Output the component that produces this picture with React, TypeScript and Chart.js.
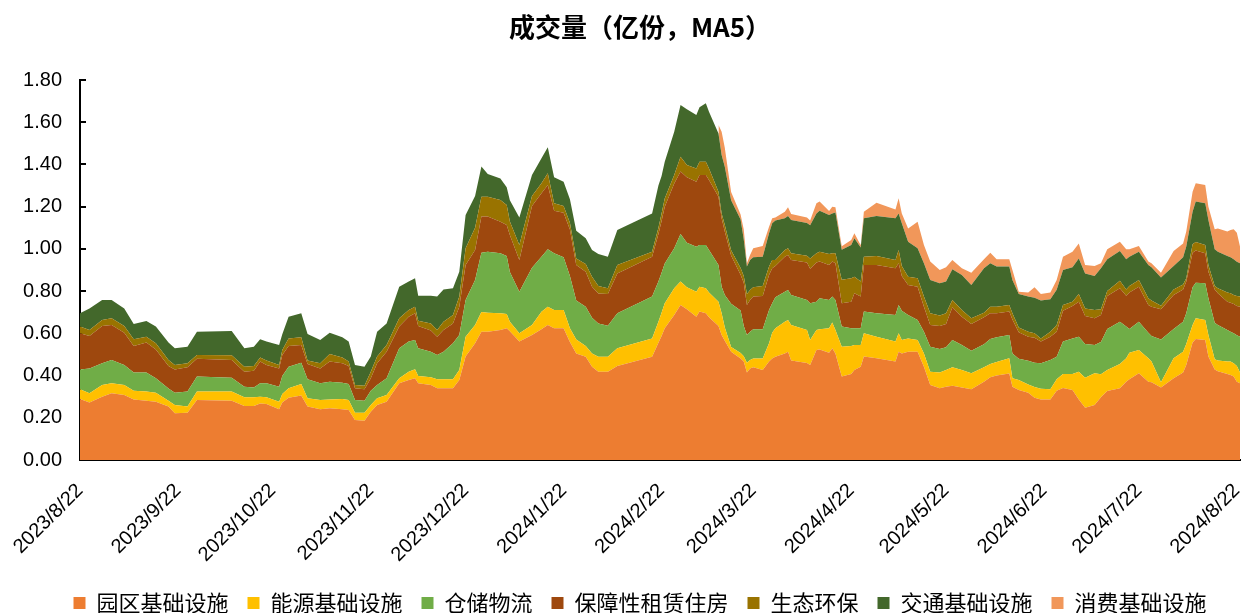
import React, { useEffect, useRef } from 'react';
import { Chart, registerables } from 'chart.js';

Chart.register(...registerables);

const dates: string[] = [
  '2023-08-22', '2023-08-25', '2023-08-29', '2023-09-01', '2023-09-05', '2023-09-08', '2023-09-12', '2023-09-15', '2023-09-19', '2023-09-21',
  '2023-09-25', '2023-09-28', '2023-10-09', '2023-10-13', '2023-10-16', '2023-10-18', '2023-10-20', '2023-10-24', '2023-10-25', '2023-10-27',
  '2023-10-31', '2023-11-02', '2023-11-06', '2023-11-09', '2023-11-13', '2023-11-15', '2023-11-17', '2023-11-20', '2023-11-22', '2023-11-24',
  '2023-11-27', '2023-12-01', '2023-12-04', '2023-12-06', '2023-12-07', '2023-12-11', '2023-12-13', '2023-12-15', '2023-12-18', '2023-12-20',
  '2023-12-22', '2023-12-25', '2023-12-27', '2023-12-29', '2024-01-02', '2024-01-04', '2024-01-05', '2024-01-08', '2024-01-12', '2024-01-15',
  '2024-01-17', '2024-01-19', '2024-01-22', '2024-01-24', '2024-01-26', '2024-01-29', '2024-01-31', '2024-02-02', '2024-02-05', '2024-02-08',
  '2024-02-19', '2024-02-21', '2024-02-22', '2024-02-23', '2024-02-26', '2024-02-28', '2024-03-01', '2024-03-04', '2024-03-05', '2024-03-07',
  '2024-03-08', '2024-03-11', '2024-03-12', '2024-03-13', '2024-03-15', '2024-03-18', '2024-03-19', '2024-03-20', '2024-03-21', '2024-03-22',
  '2024-03-25', '2024-03-27', '2024-03-28', '2024-03-29', '2024-04-01', '2024-04-02', '2024-04-03', '2024-04-08', '2024-04-09', '2024-04-11',
  '2024-04-12', '2024-04-15', '2024-04-16', '2024-04-17', '2024-04-19', '2024-04-22', '2024-04-23', '2024-04-25', '2024-04-26', '2024-04-30',
  '2024-05-06', '2024-05-07', '2024-05-08', '2024-05-10', '2024-05-13', '2024-05-15', '2024-05-17', '2024-05-20', '2024-05-22', '2024-05-24',
  '2024-05-27', '2024-05-30', '2024-06-03', '2024-06-05', '2024-06-07', '2024-06-11', '2024-06-12', '2024-06-14', '2024-06-17', '2024-06-19',
  '2024-06-21', '2024-06-24', '2024-06-26', '2024-06-28', '2024-07-01', '2024-07-03', '2024-07-05', '2024-07-08', '2024-07-10', '2024-07-12',
  '2024-07-16', '2024-07-18', '2024-07-19', '2024-07-22', '2024-07-25', '2024-07-26', '2024-07-29', '2024-08-02', '2024-08-05', '2024-08-06',
  '2024-08-08', '2024-08-09', '2024-08-12', '2024-08-13', '2024-08-15', '2024-08-16', '2024-08-19', '2024-08-20', '2024-08-21', '2024-08-22',
  '2024-08-23',
];

// 园区基础设施
const park: number[] = [
  0.289, 0.272, 0.300, 0.316, 0.308, 0.287, 0.281, 0.276, 0.253, 0.221,
  0.224, 0.284, 0.281, 0.256, 0.256, 0.268, 0.265, 0.240, 0.272, 0.295,
  0.305, 0.253, 0.240, 0.245, 0.240, 0.237, 0.190, 0.186, 0.229, 0.261,
  0.276, 0.363, 0.379, 0.387, 0.363, 0.355, 0.340, 0.340, 0.340, 0.379,
  0.490, 0.553, 0.608, 0.608, 0.616, 0.624, 0.610, 0.561, 0.592, 0.619,
  0.640, 0.624, 0.624, 0.559, 0.505, 0.489, 0.442, 0.418, 0.418, 0.445,
  0.489, 0.555, 0.587, 0.624, 0.687, 0.734, 0.714, 0.679, 0.703, 0.695,
  0.676, 0.635, 0.592, 0.565, 0.513, 0.481, 0.466, 0.414, 0.434, 0.439,
  0.426, 0.466, 0.481, 0.489, 0.505, 0.513, 0.471, 0.460, 0.450, 0.521,
  0.524, 0.508, 0.529, 0.505, 0.395, 0.407, 0.426, 0.442, 0.490, 0.482,
  0.466, 0.513, 0.505, 0.513, 0.513, 0.442, 0.355, 0.340, 0.347, 0.352,
  0.344, 0.335, 0.371, 0.392, 0.400, 0.410, 0.347, 0.332, 0.319, 0.295,
  0.287, 0.287, 0.328, 0.341, 0.332, 0.287, 0.248, 0.261, 0.297, 0.327,
  0.340, 0.371, 0.382, 0.411, 0.371, 0.368, 0.344, 0.387, 0.414, 0.450,
  0.556, 0.573, 0.568, 0.490, 0.429, 0.420, 0.407, 0.403, 0.395, 0.371,
  0.363,
];

// 能源基础设施
const energy: number[] = [
  0.046, 0.044, 0.055, 0.047, 0.047, 0.041, 0.043, 0.043, 0.028, 0.040,
  0.029, 0.040, 0.043, 0.041, 0.041, 0.032, 0.032, 0.036, 0.041, 0.045,
  0.055, 0.039, 0.044, 0.042, 0.049, 0.047, 0.034, 0.038, 0.032, 0.031,
  0.032, 0.024, 0.039, 0.043, 0.035, 0.037, 0.042, 0.042, 0.042, 0.047,
  0.094, 0.087, 0.093, 0.090, 0.079, 0.068, 0.045, 0.039, 0.047, 0.083,
  0.086, 0.086, 0.086, 0.065, 0.066, 0.051, 0.063, 0.071, 0.071, 0.084,
  0.087, 0.100, 0.111, 0.118, 0.126, 0.111, 0.104, 0.118, 0.118, 0.118,
  0.117, 0.115, 0.103, 0.063, 0.022, 0.026, 0.026, 0.047, 0.040, 0.042,
  0.055, 0.087, 0.122, 0.135, 0.150, 0.150, 0.168, 0.156, 0.118, 0.095,
  0.095, 0.116, 0.122, 0.111, 0.142, 0.133, 0.119, 0.103, 0.110, 0.102,
  0.095, 0.087, 0.063, 0.063, 0.055, 0.063, 0.063, 0.074, 0.079, 0.087,
  0.082, 0.076, 0.068, 0.063, 0.064, 0.072, 0.040, 0.047, 0.039, 0.051,
  0.051, 0.048, 0.054, 0.066, 0.075, 0.131, 0.142, 0.150, 0.109, 0.099,
  0.115, 0.111, 0.126, 0.110, 0.111, 0.098, 0.024, 0.095, 0.099, 0.100,
  0.083, 0.098, 0.095, 0.102, 0.048, 0.051, 0.059, 0.063, 0.063, 0.074,
  0.051,
];

// 仓储物流
const storage: number[] = [
  0.094, 0.118, 0.103, 0.111, 0.095, 0.086, 0.090, 0.068, 0.058, 0.058,
  0.071, 0.071, 0.066, 0.050, 0.047, 0.063, 0.066, 0.071, 0.085, 0.102,
  0.101, 0.090, 0.079, 0.084, 0.077, 0.076, 0.060, 0.057, 0.067, 0.063,
  0.079, 0.142, 0.143, 0.138, 0.131, 0.121, 0.115, 0.131, 0.171, 0.166,
  0.174, 0.213, 0.281, 0.289, 0.284, 0.274, 0.235, 0.197, 0.272, 0.261,
  0.272, 0.269, 0.250, 0.247, 0.184, 0.186, 0.169, 0.158, 0.147, 0.166,
  0.198, 0.190, 0.189, 0.189, 0.190, 0.225, 0.211, 0.213, 0.197, 0.205,
  0.202, 0.174, 0.126, 0.153, 0.205, 0.201, 0.143, 0.131, 0.134, 0.138,
  0.138, 0.157, 0.139, 0.147, 0.142, 0.142, 0.142, 0.142, 0.174, 0.134,
  0.147, 0.134, 0.123, 0.142, 0.095, 0.084, 0.079, 0.079, 0.103, 0.111,
  0.126, 0.134, 0.139, 0.111, 0.095, 0.103, 0.119, 0.112, 0.108, 0.129,
  0.119, 0.107, 0.109, 0.118, 0.117, 0.110, 0.118, 0.101, 0.112, 0.115,
  0.120, 0.139, 0.107, 0.154, 0.169, 0.166, 0.159, 0.134, 0.153, 0.195,
  0.200, 0.150, 0.113, 0.134, 0.121, 0.121, 0.203, 0.139, 0.142, 0.145,
  0.179, 0.169, 0.174, 0.174, 0.173, 0.169, 0.150, 0.142, 0.142, 0.146,
  0.170,
];

// 保障性租赁住房
const housing: number[] = [
  0.171, 0.153, 0.177, 0.166, 0.153, 0.126, 0.142, 0.137, 0.106, 0.110,
  0.115, 0.085, 0.084, 0.071, 0.079, 0.103, 0.087, 0.087, 0.099, 0.098,
  0.084, 0.073, 0.071, 0.095, 0.092, 0.085, 0.056, 0.054, 0.059, 0.103,
  0.126, 0.103, 0.118, 0.127, 0.106, 0.100, 0.087, 0.103, 0.094, 0.134,
  0.166, 0.142, 0.171, 0.166, 0.150, 0.147, 0.176, 0.150, 0.292, 0.300,
  0.305, 0.202, 0.211, 0.221, 0.169, 0.166, 0.147, 0.142, 0.150, 0.189,
  0.189, 0.225, 0.245, 0.269, 0.307, 0.296, 0.310, 0.308, 0.332, 0.332,
  0.331, 0.323, 0.324, 0.301, 0.229, 0.170, 0.205, 0.142, 0.150, 0.155,
  0.158, 0.166, 0.166, 0.148, 0.166, 0.166, 0.166, 0.177, 0.164, 0.185,
  0.174, 0.166, 0.166, 0.174, 0.111, 0.126, 0.166, 0.150, 0.221, 0.229,
  0.221, 0.198, 0.165, 0.142, 0.158, 0.118, 0.102, 0.109, 0.110, 0.155,
  0.134, 0.126, 0.128, 0.122, 0.114, 0.111, 0.161, 0.125, 0.114, 0.118,
  0.103, 0.110, 0.119, 0.146, 0.153, 0.166, 0.133, 0.126, 0.128, 0.156,
  0.158, 0.146, 0.172, 0.166, 0.131, 0.139, 0.143, 0.161, 0.153, 0.150,
  0.164, 0.152, 0.142, 0.126, 0.158, 0.150, 0.134, 0.137, 0.139, 0.138,
  0.142,
];

// 生态环保
const eco: number[] = [
  0.032, 0.029, 0.028, 0.031, 0.032, 0.032, 0.028, 0.029, 0.029, 0.021,
  0.019, 0.017, 0.022, 0.024, 0.022, 0.020, 0.021, 0.016, 0.024, 0.036,
  0.036, 0.016, 0.024, 0.036, 0.028, 0.021, 0.015, 0.017, 0.031, 0.032,
  0.032, 0.039, 0.032, 0.031, 0.025, 0.034, 0.032, 0.039, 0.040, 0.048,
  0.079, 0.105, 0.094, 0.094, 0.103, 0.095, 0.064, 0.071, 0.048, 0.048,
  0.055, 0.035, 0.032, 0.032, 0.031, 0.036, 0.047, 0.035, 0.027, 0.040,
  0.024, 0.030, 0.036, 0.039, 0.040, 0.071, 0.058, 0.063, 0.063, 0.063,
  0.055, 0.024, 0.023, 0.031, 0.024, 0.032, 0.031, 0.052, 0.047, 0.044,
  0.047, 0.040, 0.039, 0.028, 0.032, 0.032, 0.032, 0.032, 0.048, 0.044,
  0.047, 0.052, 0.039, 0.047, 0.111, 0.111, 0.078, 0.071, 0.039, 0.042,
  0.039, 0.063, 0.047, 0.039, 0.040, 0.048, 0.056, 0.049, 0.051, 0.035,
  0.032, 0.027, 0.022, 0.031, 0.031, 0.031, 0.029, 0.023, 0.024, 0.021,
  0.015, 0.024, 0.032, 0.027, 0.021, 0.036, 0.036, 0.040, 0.027, 0.023,
  0.036, 0.030, 0.031, 0.032, 0.032, 0.029, 0.017, 0.026, 0.023, 0.016,
  0.040, 0.041, 0.039, 0.032, 0.016, 0.023, 0.043, 0.045, 0.043, 0.048,
  0.048,
];

// 交通基础设施
const transport: number[] = [
  0.063, 0.102, 0.095, 0.087, 0.083, 0.072, 0.074, 0.079, 0.082, 0.079,
  0.079, 0.111, 0.115, 0.087, 0.092, 0.086, 0.090, 0.095, 0.075, 0.103,
  0.114, 0.126, 0.111, 0.101, 0.095, 0.095, 0.095, 0.090, 0.072, 0.118,
  0.102, 0.150, 0.134, 0.135, 0.118, 0.131, 0.158, 0.153, 0.126, 0.118,
  0.158, 0.150, 0.143, 0.108, 0.102, 0.084, 0.100, 0.131, 0.099, 0.118,
  0.123, 0.123, 0.115, 0.111, 0.131, 0.122, 0.127, 0.152, 0.150, 0.165,
  0.181, 0.200, 0.177, 0.174, 0.205, 0.245, 0.264, 0.253, 0.258, 0.277,
  0.269, 0.276, 0.277, 0.276, 0.237, 0.229, 0.174, 0.130, 0.142, 0.142,
  0.139, 0.158, 0.174, 0.187, 0.150, 0.153, 0.158, 0.156, 0.158, 0.189,
  0.194, 0.185, 0.189, 0.193, 0.142, 0.157, 0.182, 0.162, 0.182, 0.190,
  0.198, 0.173, 0.202, 0.166, 0.142, 0.158, 0.158, 0.153, 0.150, 0.145,
  0.165, 0.158, 0.210, 0.206, 0.190, 0.182, 0.158, 0.158, 0.166, 0.169,
  0.179, 0.153, 0.166, 0.166, 0.163, 0.169, 0.166, 0.161, 0.194, 0.151,
  0.141, 0.143, 0.139, 0.134, 0.158, 0.158, 0.134, 0.111, 0.129, 0.150,
  0.154, 0.191, 0.198, 0.213, 0.174, 0.174, 0.173, 0.170, 0.169, 0.162,
  0.158,
];

// 消费基础设施 (listed from 2024-03-11)
const consumption: (number | null)[] = [
  null, null, null, null, null, null, null, null, null, null,
  null, null, null, null, null, null, null, null, null, null,
  null, null, null, null, null, null, null, null, null, null,
  null, null, null, null, null, null, null, null, null, null,
  null, null, null, null, null, null, null, null, null, null,
  null, null, null, null, null, null, null, null, null, null,
  null, null, null, null, null, null, null, null, null, null,
  null, 0.040, 0.110, 0.090, 0.039, 0.024, 0.047, 0.016, 0.024, 0.043,
  0.051, 0.031, 0.024, 0.015, 0.031, 0.041, 0.028, 0.026, 0.022, 0.048,
  0.043, 0.019, 0.032, 0.025, 0.016, 0.024, 0.024, 0.010, 0.031, 0.063,
  0.042, 0.072, 0.047, 0.063, 0.126, 0.086, 0.087, 0.063, 0.068, 0.044,
  0.032, 0.058, 0.043, 0.050, 0.035, 0.035, 0.047, 0.011, 0.019, 0.049,
  0.031, 0.032, 0.047, 0.063, 0.074, 0.071, 0.040, 0.047, 0.024, 0.047,
  0.044, 0.047, 0.035, 0.027, 0.016, 0.019, 0.022, 0.071, 0.066, 0.071,
  0.095, 0.087, 0.087, 0.063, 0.095, 0.109, 0.116, 0.130, 0.142, 0.138,
  0.079,
];

const tickLabels: string[] = [
  '2023/8/22', '2023/9/22', '2023/10/22', '2023/11/22', '2023/12/22', '2024/1/22', '2024/2/22',
  '2024/3/22', '2024/4/22', '2024/5/22', '2024/6/22', '2024/7/22', '2024/8/22',
];

const seriesNames: string[] = ['园区基础设施', '能源基础设施', '仓储物流', '保障性租赁住房', '生态环保', '交通基础设施', '消费基础设施'];
const seriesColors: string[] = ['#ED7D31', '#FFC000', '#70AD47', '#9E480E', '#997300', '#43682B', '#F1975A'];

const titleText = '成交量（亿份，MA5）';
const yMax = 1.8;
const yStep = 0.2;
const lastDay = '2024-08-23';

const START = Date.UTC(2023, 7, 22);
function toDay(s: string): number {
  const p = s.split(/[-/]/).map(Number);
  return Math.round((Date.UTC(p[0], p[1] - 1, p[2]) - START) / 86400000);
}

// shifts the centred title and legend so that they sit where the original ones do
const centreShift = {
  id: 'centreShift',
  afterLayout(chart: any) {
    if (chart.titleBlock) chart.titleBlock.left = 40;
    if (chart.legend) chart.legend.left = 40;
  },
};

export default function App() {
  const ref = useRef<HTMLCanvasElement | null>(null);

  useEffect(() => {
    if (!ref.current) return;
    const xs = dates.map(toDay);
    const tickDays = tickLabels.map(toDay);
    const allSeries = [park, energy, storage, housing, eco, transport, consumption];
    const cjk = '"Noto Sans CJK SC", "Noto Sans", sans-serif';
    const latin = '"Liberation Sans", Arial, sans-serif';

    const chart = new Chart(ref.current, {
      type: 'line',
      data: {
        datasets: allSeries.map((arr, i) => ({
          label: seriesNames[i],
          data: arr.map((v, j) => ({ x: xs[j], y: v })),
          backgroundColor: seriesColors[i],
          borderColor: seriesColors[i],
          borderWidth: 0,
          pointRadius: 0,
          pointHoverRadius: 0,
          tension: 0,
          fill: i === 0 ? 'origin' : '-1',
        })),
      },
      options: {
        responsive: false,
        animation: false,
        devicePixelRatio: 1,
        layout: { padding: { left: 0, right: 3, top: 0, bottom: -11 } },
        plugins: {
          tooltip: { enabled: false },
          title: {
            display: true,
            text: titleText,
            color: '#000',
            font: { size: 26, weight: 'bold', family: cjk },
            padding: { top: 11.4, bottom: 37.4 },
          },
          legend: {
            position: 'bottom',
            labels: {
              boxWidth: 12,
              boxHeight: 12,
              padding: 19,
              color: '#000',
              font: { size: 22, family: cjk },
            },
          },
        },
        scales: {
          x: {
            type: 'linear',
            min: 0,
            max: toDay(lastDay),
            afterBuildTicks: (s: any) => {
              s.ticks = tickDays.map((v) => ({ value: v }));
            },
            afterFit: (s: any) => {
              s.height = 113;
              s.paddingLeft = 0;
              s.paddingRight = 0;
            },
            ticks: {
              autoSkip: false,
              minRotation: 45,
              maxRotation: 45,
              padding: 24,
              color: '#000',
              font: { size: 20, family: latin },
              callback: (v: any) => {
                const k = tickDays.indexOf(Number(v));
                return k >= 0 ? tickLabels[k] : '';
              },
            },
            grid: {
              display: true,
              drawOnChartArea: false,
              drawTicks: true,
              tickLength: -5,
              color: '#000',
              lineWidth: 2,
            },
            border: { display: true, color: '#000', width: 2 },
          },
          y: {
            stacked: true,
            min: 0,
            max: yMax,
            afterFit: (s: any) => {
              s.width = 80;
            },
            ticks: {
              stepSize: yStep,
              padding: 24,
              color: '#000',
              font: { size: 20, family: latin },
              callback: (v: any) => Number(v).toFixed(2),
            },
            grid: {
              display: true,
              drawOnChartArea: false,
              drawTicks: true,
              tickLength: -6,
              color: '#000',
              lineWidth: 2,
            },
            border: { display: true, color: '#000', width: 2 },
          },
        },
      },
      plugins: [centreShift],
    } as any);

    return () => chart.destroy();
  }, []);

  return (
    <div style={{ position: 'fixed', left: 0, top: 0, width: 1243, height: 613, background: '#fff' }}>
      <canvas ref={ref} width={1243} height={613} style={{ display: 'block' }} />
    </div>
  );
}
